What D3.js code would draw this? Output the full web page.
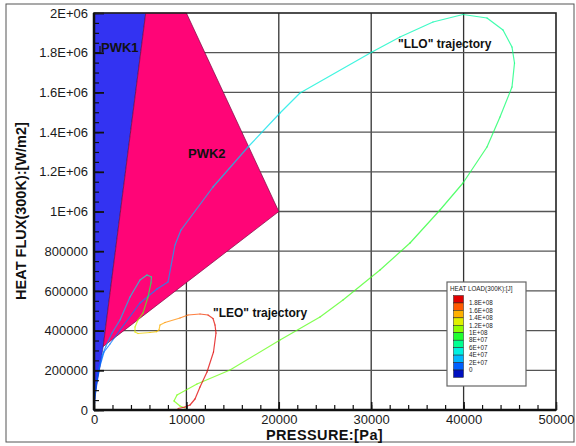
<!DOCTYPE html>
<html><head><meta charset="utf-8">
<script src="https://cdn.jsdelivr.net/npm/d3@7"></script>
<style>
html,body{margin:0;padding:0;background:#fff;}
svg{display:block;font-family:"Liberation Sans",Arial,sans-serif;}
</style></head>
<body><svg id="c" width="576" height="446"></svg>
<script>
// ---------- DATA ----------
const xTickValues = [0, 10000, 20000, 30000, 40000, 50000];
const xTickLabels = ["0", "10000", "20000", "30000", "40000", "50000"];
const yTickValues = [0, 200000, 400000, 600000, 800000, 1000000, 1200000, 1400000, 1600000, 1800000, 2000000];
const yTickLabels = ["0", "200000", "400000", "600000", "800000", "1E+06", "1.2E+06", "1.4E+06", "1.6E+06", "1.8E+06", "2E+06"];

// PWK corridors (pressure Pa, heat flux W/m2)
const pwk1Pressure = [0, 1000, 5600, 0];
const pwk1HeatFlux = [40000, 320000, 2000000, 2000000];
const pwk2Pressure = [1000, 5600, 10000, 20000];
const pwk2HeatFlux = [320000, 2000000, 2000000, 1000000];

// "LLO" trajectory
const lloPressure = [0, 108, 325, 649, 1082, 1732, 2814, 4978, 6818, 8009, 8333, 8766, 9416, 12879, 16667, 20130, 22294, 30087, 33117, 36688, 39935, 42532, 44264, 45238, 45509, 45238, 43939, 42532, 39935, 37446, 34199, 30952, 26948, 24459, 20130, 14719, 11147, 8983, 8658, 9307, 9848];
const lloHeatFlux = [0, 60454, 151134, 221664, 292193, 332496, 403026, 539037, 609567, 644831, 725436, 831230, 906797, 1123422, 1324934, 1496219, 1596975, 1803525, 1879092, 1954659, 1992442, 1974810, 1914356, 1828717, 1748112, 1627205, 1476072, 1324938, 1143577, 1007557, 841310, 705298, 554164, 468521, 352653, 201519, 130989, 75573, 45346, 20157, 10082];
const lloHeatLoad = [0, 3e6, 6e6, 9e6, 1.2e7, 1.4e7, 1.6e7, 2e7, 2.3e7, 2.5e7, 2.7e7, 3e7, 3.2e7, 3.7e7, 4.2e7, 4.6e7, 4.9e7, 5.6e7, 5.9e7, 6.2e7, 6.5e7, 6.8e7, 7.0e7, 7.2e7, 7.4e7, 7.6e7, 7.9e7, 8.2e7, 8.6e7, 8.9e7, 9.2e7, 9.5e7, 9.8e7, 9.9e7, 1.01e8, 1.03e8, 1.04e8, 1.05e8, 1.05e8, 1.06e8, 1.06e8];

// "LEO" trajectory
const leoPressure = [0, 108, 433, 866, 1299, 1948, 2814, 3896, 4978, 5736, 6223, 6169, 5845, 5303, 4762, 4437, 4437, 4762, 6061, 6764, 7035, 7143, 7684, 9308, 10174, 11472, 12338, 12879, 13096, 13204, 12933, 12230, 11472, 10931, 10390, 9849, 9091];
const leoHeatFlux = [0, 75567, 191436, 272041, 322419, 387911, 453402, 569271, 654914, 680103, 670028, 639801, 569271, 488667, 453402, 418137, 392948, 385392, 390429, 394460, 403024, 428213, 440807, 463478, 478591, 483629, 478591, 460959, 428213, 387911, 292192, 191436, 115869, 55416, 25189, 15113, 7557];
const leoHeatLoad = [0, 5e6, 1e7, 1.5e7, 2e7, 2.5e7, 3e7, 4e7, 5e7, 6e7, 6.8e7, 7.6e7, 9e7, 1.05e8, 1.15e8, 1.25e8, 1.32e8, 1.38e8, 1.42e8, 1.44e8, 1.46e8, 1.5e8, 1.55e8, 1.62e8, 1.68e8, 1.75e8, 1.82e8, 1.86e8, 1.88e8, 1.9e8, 1.92e8, 1.94e8, 1.95e8, 1.96e8, 1.97e8, 1.98e8, 1.98e8];

// Heat load colour legend (top to bottom)
const legendBandValues = [1.9e8, 1.7e8, 1.5e8, 1.3e8, 1.1e8, 9e7, 7e7, 5e7, 3e7, 1e7, -1e7];
const legendBandColors = ["#e00000", "#ff5a00", "#ffb000", "#e0f000", "#90ff00", "#20ff30", "#00ff90", "#00f0e0", "#00b8ff", "#0060ff", "#0010c0"];
const legendLabels = ["1.8E+08", "1.6E+08", "1.4E+08", "1.2E+08", "1E+08", "8E+07", "6E+07", "4E+07", "2E+07", "0"];

// ---------- CHART ----------
const svg = d3.select("#c");
const x = d3.scaleLinear().domain([0, 50000]).range([94, 556]);
const y = d3.scaleLinear().domain([0, 2000000]).range([410, 13]);
const color = d3.scaleLinear().domain(legendBandValues.slice().reverse()).range(legendBandColors.slice().reverse()).clamp(true);

// outer frame
svg.append("rect").attr("x", 6).attr("y", 4).attr("width", 568).attr("height", 438)
  .attr("fill", "#fff").attr("stroke", "#555").attr("stroke-width", 1);

// grid
const g = svg.append("g");
g.selectAll(".vg").data(xTickValues.slice(1, -1)).join("line")
  .attr("x1", d => x(d)).attr("x2", d => x(d)).attr("y1", y(0)).attr("y2", y(2000000))
  .attr("stroke", "#333").attr("stroke-width", 1.3);
g.selectAll(".hg").data(yTickValues.slice(1, -1)).join("line")
  .attr("x1", x(0)).attr("x2", x(50000)).attr("y1", d => y(d)).attr("y2", d => y(d))
  .attr("stroke", "#555").attr("stroke-width", 1.3);

// PWK polygons
const poly = (px, py) => px.map((p, i) => [x(p), y(py[i])]);
svg.append("path").attr("d", d3.line()(poly(pwk1Pressure, pwk1HeatFlux)) + "Z")
  .attr("fill", "#3333f2").attr("stroke", "#20208a").attr("stroke-width", 0.6);
svg.append("path").attr("d", d3.line()(poly(pwk2Pressure, pwk2HeatFlux)) + "Z")
  .attr("fill", "#ff0577").attr("stroke", "#7a0a40").attr("stroke-width", 0.7);

// trajectories coloured by heat load
function traj(px, py, hl) {
  const segs = [];
  for (let i = 0; i < px.length - 1; i++) {
    segs.push({a: [x(px[i]), y(py[i])], b: [x(px[i + 1]), y(py[i + 1])], v: (hl[i] + hl[i + 1]) / 2});
  }
  svg.append("g").selectAll("line").data(segs).join("line")
    .attr("x1", d => d.a[0]).attr("y1", d => d.a[1]).attr("x2", d => d.b[0]).attr("y2", d => d.b[1])
    .attr("stroke", d => color(d.v)).attr("stroke-width", 1.2).attr("stroke-opacity", 0.75)
    .attr("stroke-linecap", "round");
}
traj(lloPressure, lloHeatFlux, lloHeatLoad);
traj(leoPressure, leoHeatFlux, leoHeatLoad);

// axes (ticks pointing inward)
const yAxis = d3.axisLeft(y).tickValues(yTickValues).tickFormat((d, i) => yTickLabels[i]).tickSizeInner(-10).tickSizeOuter(0).tickPadding(6);
const yMinor = d3.axisLeft(y).tickValues(d3.range(0, 2000001, 50000)).tickFormat("").tickSizeInner(-5).tickSizeOuter(0);
const xAxis = d3.axisBottom(x).tickValues(xTickValues).tickFormat((d, i) => xTickLabels[i]).tickSizeInner(-8).tickSizeOuter(0).tickPadding(5);
const xMinor = d3.axisBottom(x).tickValues(d3.range(0, 50001, 2000)).tickFormat("").tickSizeInner(-5).tickSizeOuter(0);

function styleAxis(sel) {
  sel.select(".domain").remove();
  sel.selectAll("line").attr("stroke", "#111").attr("stroke-width", 1.2);
  sel.selectAll("text").attr("font-size", 13).attr("fill", "#1a1a1a")
    .attr("font-family", "'Liberation Sans', Arial, sans-serif");
}
svg.append("g").attr("transform", `translate(${x(0)},0)`).call(yMinor).call(styleAxis);
svg.append("g").attr("transform", `translate(${x(0)},0)`).call(yAxis).call(styleAxis)
  .selectAll("line").attr("stroke-width", 1.8);
svg.append("g").attr("transform", `translate(0,${y(0)})`).call(xMinor).call(styleAxis);
svg.append("g").attr("transform", `translate(0,${y(0)})`).call(xAxis).call(styleAxis)
  .selectAll("line").attr("stroke-width", 1.5);

// plot frame
svg.append("rect").attr("x", x(0)).attr("y", y(2000000)).attr("width", x(50000) - x(0)).attr("height", y(0) - y(2000000))
  .attr("fill", "none").attr("stroke", "#222").attr("stroke-width", 1.6);
svg.append("line").attr("x1", x(0)).attr("x2", x(0)).attr("y1", y(0)).attr("y2", y(2000000)).attr("stroke", "#111").attr("stroke-width", 2.5);
svg.append("line").attr("x1", x(0)).attr("x2", x(50000)).attr("y1", y(0)).attr("y2", y(0)).attr("stroke", "#111").attr("stroke-width", 2.5);

// labels
const bold = (t, px, py, fs, anchor) => svg.append("text").attr("x", px).attr("y", py).text(t)
  .attr("font-size", fs).attr("font-weight", "bold").attr("fill", "#111").attr("text-anchor", anchor || "start");
bold("PWK1", 101, 51.5, 13);
svg.append("path").attr("d", `M${x(0)},${y(1800000)}H100V46`).attr("fill", "none").attr("stroke", "#111").attr("stroke-width", 1.2);
bold("PWK2", 188, 157.5, 13);
bold("\"LEO\" trajectory", 213, 317, 12);
bold("\"LLO\" trajectory", 398, 47.5, 12);

bold("PRESSURE:[Pa]", 324.5, 440, 14.5, "middle").attr("letter-spacing", 0.4);
svg.append("text").attr("transform", "translate(26,211) rotate(-90)").text("HEAT FLUX(300K):[W/m2]")
  .attr("font-size", 14.5).attr("font-weight", "bold").attr("fill", "#111").attr("text-anchor", "middle");

// legend
const lg = svg.append("g");
lg.append("rect").attr("x", 447).attr("y", 282).attr("width", 79).attr("height", 104)
  .attr("fill", "#fff").attr("stroke", "#666").attr("stroke-width", 1.2);
lg.append("text").attr("x", 450).attr("y", 290.5).text("HEAT LOAD(300K):[J]").attr("font-size", 6.3).attr("fill", "#222");
const bandH = 7.45, bandTop = 295.5;
lg.selectAll(".band").data(legendBandColors).join("rect")
  .attr("x", 453.5).attr("y", (d, i) => bandTop + i * bandH).attr("width", 10).attr("height", bandH)
  .attr("fill", d => d).attr("stroke", "#222").attr("stroke-width", 0.5);
lg.selectAll(".ll").data(legendLabels).join("text")
  .attr("x", 469).attr("y", (d, i) => bandTop + (i + 1) * bandH + 2.2).text(d => d)
  .attr("font-size", 6.3).attr("fill", "#222");
</script></body></html>
